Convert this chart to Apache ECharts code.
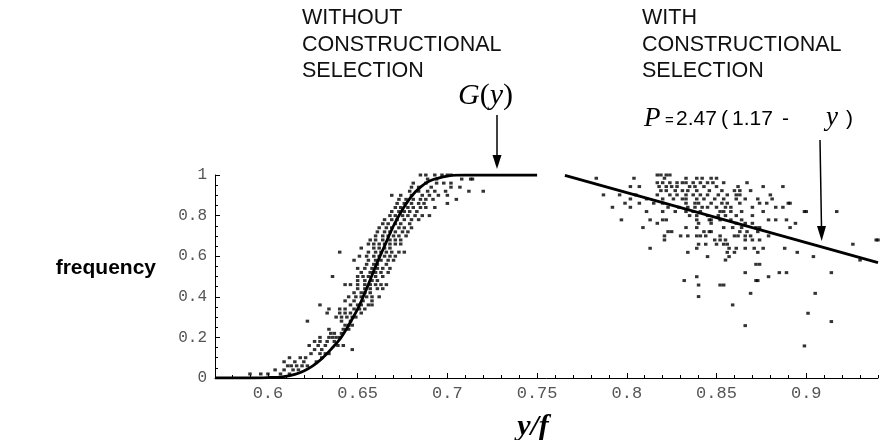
<!DOCTYPE html>
<html><head><meta charset="utf-8">
<script src="https://cdn.jsdelivr.net/npm/echarts@6/dist/echarts.min.js"></script>
<style>html,body{margin:0;padding:0;background:#fff}#c{width:894px;height:440px}</style>
</head><body><div id="c"></div><script>
// ---- tick values and labels ----
const xTicks = [0.6, 0.65, 0.7, 0.75, 0.8, 0.85, 0.9];
const xMinorTicks = [0.58,0.59,0.60,0.61,0.62,0.63,0.64,0.65,0.66,0.67,0.68,0.69,0.70,0.71,0.72,0.73,0.74,0.75,0.76,0.77,0.78,0.79,0.80,0.81,0.82,0.83,0.84,0.85,0.86,0.87,0.88,0.89,0.90,0.91,0.92,0.93,0.94];
const yLabels = {0:'0', 0.2:'0.2', 0.4:'0.4', 0.6:'0.6', 0.8:'0.8', 1:'1'};

// ---- G(y) curve ----
const gCurveX = [0.5705,0.59,0.60,0.608,0.615,0.62,0.625,0.63,0.635,0.64,0.645,0.65,0.655,0.66,0.665,0.67,0.675,0.68,0.685,0.69,0.695,0.70,0.705,0.71,0.75];
const gCurveY = [0,0,0.002,0.006,0.018,0.035,0.06,0.095,0.14,0.19,0.26,0.34,0.44,0.55,0.65,0.75,0.83,0.895,0.94,0.97,0.985,0.995,0.999,1,1];

// ---- P line ----
const pLineX = [0.7655, 0.94];
const pLineY = [0.998, 0.568];

// ---- dots without constructional selection: rows of y, with x positions ----
const leftRowY = [0.02,0.04,0.06,0.08,0.10,0.12,0.14,0.16,0.18,0.20,0.22,0.24,0.26,0.28,0.30,0.32,0.34,0.36,0.38,0.40,0.42,0.44,0.46,0.48,0.50,0.52,0.54,0.56,0.58,0.60,0.62,0.64,0.66,0.68,0.70,0.72,0.74,0.76,0.78,0.80,0.82,0.84,0.86,0.88,0.90,0.92,0.94,0.96,0.98,1.00];
const leftRowX = [
 [0.590,0.596,0.600,0.607,0.612],
 [0.604,0.609,0.614,0.617],
 [0.611,0.613,0.616,0.619,0.622],
 [0.609,0.615,0.620,0.627],
 [0.612,0.618,0.621,0.630],
 [0.624,0.629,0.632,0.634],
 [0.626,0.630,0.647],
 [0.623,0.628,0.632,0.639,0.642],
 [0.626,0.629,0.633,0.637],
 [0.629,0.634,0.636,0.638,0.640],
 [0.635,0.637,0.641],
 [0.634,0.642,0.645],
 [0.643,0.645,0.647],
 [0.622,0.641,0.646],
 [0.638,0.641,0.644,0.647,0.649],
 [0.633,0.640,0.643,0.646,0.652],
 [0.634,0.640,0.643,0.648,0.651,0.654],
 [0.629,0.646,0.650,0.652,0.656,0.658],
 [0.643,0.648,0.653,0.658],
 [0.645,0.649,0.652,0.655,0.658,0.662],
 [0.648,0.652,0.654,0.657],
 [0.650,0.654,0.657,0.661,0.664],
 [0.643,0.646,0.650,0.654,0.657,0.660,0.663,0.666],
 [0.650,0.654,0.658,0.661],
 [0.636,0.650,0.653,0.656,0.660,0.664],
 [0.652,0.657,0.660,0.663,0.667],
 [0.650,0.654,0.658,0.661,0.664,0.668],
 [0.655,0.659,0.661,0.666],
 [0.648,0.656,0.660,0.663,0.667,0.670],
 [0.651,0.655,0.659,0.662,0.665,0.668,0.671],
 [0.640,0.656,0.660,0.663,0.666,0.669,0.673,0.676],
 [0.652,0.659,0.662,0.665,0.668],
 [0.656,0.659,0.662,0.665,0.668,0.671,0.674],
 [0.657,0.660,0.664,0.668,0.671,0.674],
 [0.660,0.664,0.667,0.670,0.673,0.677],
 [0.661,0.665,0.668,0.671,0.675,0.678],
 [0.662,0.666,0.669,0.673,0.676,0.680],
 [0.664,0.667,0.671,0.674,0.679],
 [0.665,0.669,0.672,0.676,0.680,0.684],
 [0.668,0.671,0.675,0.678,0.682,0.686,0.690],
 [0.669,0.673,0.676,0.679,0.683],
 [0.671,0.674,0.678,0.681,0.685,0.688,0.693],
 [0.672,0.676,0.680,0.684,0.687,0.700],
 [0.673,0.677,0.681,0.685,0.688,0.692,0.705],
 [0.669,0.674,0.680,0.686,0.690,0.695,0.700],
 [0.679,0.684,0.689,0.693,0.699,0.712,0.720],
 [0.680,0.684,0.691,0.702,0.707],
 [0.681,0.688,0.694,0.698,0.702],
 [0.689,0.694,0.708,0.713,0.714],
 [0.685,0.688,0.693,0.697,0.700,0.702]
];

// ---- dots with constructional selection ----
const rightRowY = [1.00,0.984,0.962,0.943,0.923,0.902,0.882,0.861,0.841,0.820,0.800,0.779,0.762,0.741,0.721,0.700,0.680,0.659,0.639,0.619,0.598,0.581,0.560,0.519,0.499,0.480,0.458,0.417,0.401,0.360,0.319,0.278,0.258,0.158];
const rightRowX = [
 [0.817,0.819,0.822,0.824],
 [0.783,0.804,0.821,0.833,0.839,0.842,0.847,0.850],
 [0.817,0.820,0.824,0.828,0.831,0.833,0.837,0.841,0.845,0.848,0.854,0.867],
 [0.802,0.807,0.818,0.822,0.825,0.828,0.835,0.838,0.843,0.850,0.862,0.876,0.887],
 [0.819,0.822,0.827,0.831,0.834,0.839,0.846,0.853,0.860,0.863,0.869],
 [0.787,0.796,0.805,0.817,0.824,0.828,0.833,0.837,0.841,0.845,0.851,0.856,0.861,0.863,0.880],
 [0.802,0.811,0.820,0.826,0.831,0.833,0.839,0.843,0.849,0.854,0.861,0.866,0.873,0.881],
 [0.799,0.807,0.815,0.820,0.833,0.838,0.840,0.847,0.853,0.856,0.863,0.874,0.878,0.890,0.891],
 [0.792,0.802,0.823,0.829,0.834,0.838,0.842,0.845,0.850,0.855,0.858,0.870,0.883,0.887],
 [0.811,0.820,0.827,0.833,0.837,0.841,0.852,0.854,0.858,0.864,0.876,0.899,0.900,0.917],
 [0.835,0.839,0.845,0.851,0.855,0.861,0.870],
 [0.797,0.813,0.820,0.822,0.839,0.846,0.847,0.852,0.858,0.864,0.879,0.883,0.889],
 [0.817,0.840,0.847,0.861,0.866,0.870,0.894],
 [0.809,0.833,0.839,0.854,0.859,0.864,0.872,0.874,0.891],
 [0.823,0.825,0.843,0.846,0.847,0.863,0.867,0.873],
 [0.821,0.830,0.834,0.839,0.841,0.844,0.852,0.860,0.862,0.866,0.869,0.879],
 [0.821,0.849,0.852,0.855,0.866,0.870,0.874,0.939,0.940],
 [0.840,0.844,0.850,0.854,0.856,0.926],
 [0.813,0.839,0.857,0.861,0.866,0.871,0.876,0.888],
 [0.834,0.856,0.860,0.873,0.895],
 [0.845,0.857,0.904],
 [0.855,0.930],
 [0.872,0.874],
 [0.866,0.885,0.889,0.914],
 [0.839,0.879],
 [0.832,0.872,0.873],
 [0.840,0.852,0.854],
 [0.869,0.905],
 [0.840],
 [0.859],
 [0.901],
 [0.914],
 [0.866],
 [0.899]
];

function rowsToPoints(ys, xs) {
  const out = [];
  ys.forEach((y, i) => xs[i].forEach(x => out.push([x, y])));
  return out;
}
function zip(xs, ys) { return xs.map((x, i) => [x, ys[i]]); }

const chart = echarts.init(document.getElementById('c'), null, {renderer: 'canvas'});
const mono = '"Liberation Mono", "DejaVu Sans Mono", monospace';
const sans = '"Liberation Sans", Arial, Helvetica, sans-serif';
const serif = '"Liberation Serif", "Times New Roman", serif';

function txt(x, y, text, font) {
  return {type: 'text', style: {x: x, y: y, text: text, font: font, fill: '#000', align: 'left', verticalAlign: 'middle'}};
}

const dotStyle = {color: '#000'};
chart.setOption({
  animation: false,
  backgroundColor: '#fff',
  grid: {left: 215, right: 16, top: 175, bottom: 62, containLabel: false},
  xAxis: [{
    type: 'value', min: 0.5705, max: 0.94,
    axisLine: {show: true, onZero: false, lineStyle: {color: '#000', width: 1}},
    axisTick: {show: true, inside: true, length: 5, customValues: xTicks, lineStyle: {color: '#000'}},
    axisLabel: {show: true, customValues: xTicks, margin: 7, color: '#555', fontFamily: mono, fontSize: 17,
      formatter: v => String(+v.toFixed(2))},
    splitLine: {show: false}
  }, {
    type: 'value', min: 0.5705, max: 0.94, position: 'bottom',
    axisLine: {show: false},
    axisTick: {show: true, inside: true, length: 3, customValues: xMinorTicks, lineStyle: {color: '#000'}},
    axisLabel: {show: false},
    splitLine: {show: false}
  }],
  yAxis: {
    type: 'value', min: 0, max: 1, interval: 0.2,
    axisLine: {show: true, lineStyle: {color: '#000', width: 1}},
    axisTick: {show: true, inside: true, length: 5, lineStyle: {color: '#000'}},
    minorTick: {show: true, splitNumber: 4, length: 3, lineStyle: {color: '#000'}},
    axisLabel: {margin: 8, color: '#555', fontFamily: mono, fontSize: 16,
      formatter: v => yLabels[+v.toFixed(1)] !== undefined ? yLabels[+v.toFixed(1)] : String(v)},
    splitLine: {show: false}
  },
  series: [
    {type: 'scatter', data: rowsToPoints(leftRowY, leftRowX), symbol: 'rect', symbolSize: [3.5, 3], itemStyle: dotStyle, silent: true},
    {type: 'scatter', data: rowsToPoints(rightRowY, rightRowX), symbol: 'rect', symbolSize: [3.5, 3], itemStyle: dotStyle, silent: true},
    {type: 'line', data: zip(gCurveX, gCurveY), smooth: 0.3, showSymbol: false, lineStyle: {color: '#000', width: 2.8}, silent: true},
    {type: 'line', data: zip(pLineX, pLineY), showSymbol: false, lineStyle: {color: '#000', width: 2.8}, silent: true}
  ],
  graphic: [
    {type: 'text', left: 302, top: 5, style: {text: 'WITHOUT\nCONSTRUCTIONAL\nSELECTION', font: '21.5px ' + sans, lineHeight: 26.5, fill: '#111'}},
    {type: 'text', left: 642, top: 5, style: {text: 'WITH\nCONSTRUCTIONAL\nSELECTION', font: '21.5px ' + sans, lineHeight: 26.5, fill: '#111'}},
    // G(y)
    {type: 'text', style: {x: 458, y: 96, verticalAlign: 'middle', align: 'left', fill: '#000',
      text: '{i|G}{n|(}{i|y}{n|)}',
      rich: {i: {fontFamily: serif, fontStyle: 'italic', fontSize: 30, fill: '#000'},
             n: {fontFamily: serif, fontSize: 30, fill: '#000'}}}},
    // P = 2.47 ( 1.17 - y )
    txt(644, 119, 'P', 'italic 27px ' + serif),
    txt(665, 121, '=', '15px ' + sans),
    txt(676, 119, '2.47', '21px ' + sans),
    txt(721, 119, '(', '21px ' + sans),
    txt(732, 119, '1.17', '21px ' + sans),
    txt(782, 119, '-', '21px ' + sans),
    txt(826, 118, 'y', 'italic 27px ' + serif),
    txt(846, 119, ')', '21px ' + sans),
    // arrows
    {type: 'line', shape: {x1: 497, y1: 115, x2: 497, y2: 157}, style: {stroke: '#000', lineWidth: 1.5}},
    {type: 'polygon', shape: {points: [[492.5, 155], [501.5, 155], [497, 169]]}, style: {fill: '#000'}},
    {type: 'line', shape: {x1: 820, y1: 140, x2: 821.5, y2: 228}, style: {stroke: '#000', lineWidth: 1.5}},
    {type: 'polygon', shape: {points: [[817, 226], [826, 226], [821.7, 241]]}, style: {fill: '#000'}},
    // axis titles
    {type: 'text', style: {x: 156, y: 268, text: 'frequency', font: 'bold 21px ' + sans, fill: '#000', align: 'right', verticalAlign: 'middle'}},
    {type: 'text', style: {x: 533, y: 427, text: 'y/f', font: 'italic bold 30px ' + serif, fill: '#000', align: 'center', verticalAlign: 'middle'}}
  ]
});
</script></body></html>
